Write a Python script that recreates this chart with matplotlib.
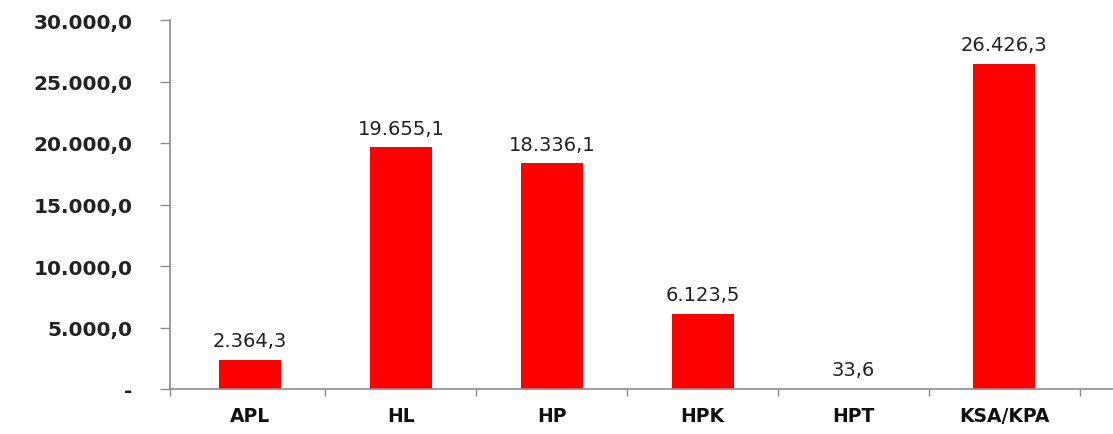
import numpy as np
import matplotlib
matplotlib.use("Agg")
import matplotlib.pyplot as plt
from matplotlib.ticker import FuncFormatter, FixedLocator

categories = ["APL", "HL", "HP", "HPK", "HPT", "KSA/KPA"]
values = [2364.3, 19655.1, 18336.1, 6123.5, 33.6, 26426.3]
yticks = [0, 5000, 10000, 15000, 20000, 25000, 30000]


def fmt_num(v, decimals=1):
    # european style: 19.655,1
    s = "{:,.{d}f}".format(v, d=decimals)
    return s.replace(",", "X").replace(".", ",").replace("X", ".")


def fmt_tick(v, pos):
    if v == 0:
        return "-"
    return fmt_num(v)


fig = plt.figure(figsize=(11.13, 4.35), dpi=100)
ax = fig.add_axes([170 / 1113, 45 / 435, 1 - 170 / 1113, 369 / 435])

x = np.arange(len(categories))
ax.bar(x, values, width=0.41, color="#ff0000", zorder=2)

for xi, v in zip(x, values):
    ax.annotate(fmt_num(v), (xi, v), xytext=(0, 7), textcoords="offset points",
                ha="center", va="bottom", fontsize=14, color="#222222")

xmin = -0.53
ax.set_ylim(0, 30000)
ax.set_xlim(xmin, 5.72)
ax.set_yticks(yticks)
ax.yaxis.set_major_formatter(FuncFormatter(fmt_tick))

ax.set_xticks(x)
ax.set_xticklabels(categories)
ax.xaxis.set_minor_locator(FixedLocator([xmin] + list(np.arange(0.5, 5.6, 1.0))))

for s in ["top", "right"]:
    ax.spines[s].set_visible(False)
for s in ["left", "bottom"]:
    ax.spines[s].set_color("#8c8c8c")
    ax.spines[s].set_linewidth(1.2)

ax.tick_params(axis="y", length=7, width=1, color="#8c8c8c", pad=20,
               labelsize=14.5, labelcolor="#222222")
ax.tick_params(axis="x", which="major", length=0, pad=12,
               labelsize=13.5, labelcolor="#111111")
ax.tick_params(axis="x", which="minor", length=5, width=1, color="#8c8c8c")
for lab in ax.get_yticklabels() + ax.get_xticklabels():
    lab.set_fontweight("bold")

fig.savefig("out.png", dpi=100)
